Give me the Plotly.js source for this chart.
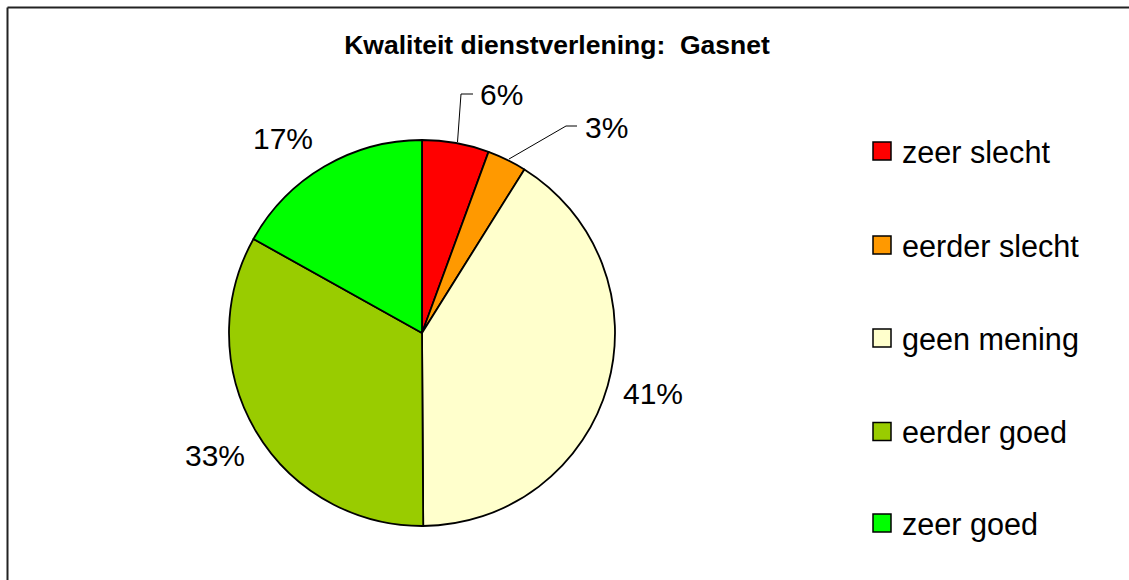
<!DOCTYPE html>
<html>
<head>
<meta charset="utf-8">
<script src="https://cdn.plot.ly/plotly-3.0.1.min.js"></script>
<style>html,body{margin:0;padding:0;background:#fff;}#chart{width:1129px;height:580px;}</style>
</head>
<body>
<div id="chart"></div>
<script>
// Data
const categories = ['zeer slecht', 'eerder slecht', 'geen mening', 'eerder goed', 'zeer goed'];
const values = [5.6, 3.3, 41.0, 33.2, 16.9];
const colors = ['#FF0000', '#FF9900', '#FFFFCC', '#99CC00', '#00FF00'];
const chartTitle = 'Kwaliteit dienstverlening:\u00a0\u00a0Gasnet';

const W = 1129, H = 580;
const X = px => px / W;
const Y = py => 1 - py / H;

const total = values.reduce((a, b) => a + b, 0);
const pctText = values.map(v => Math.round(v / total * 100) + '%');

// label placement (pixel centres) for each slice
const labelPos = [[501, 94], [606, 126], [653, 392], [215, 454], [283, 137]];

const font = "Liberation Sans, Arial, sans-serif";

const annotations = [];
const shapes = [];

// Percentage labels
values.forEach((v, i) => {
  annotations.push({
    xref: 'paper', yref: 'paper', x: X(labelPos[i][0]), y: Y(labelPos[i][1] + 1),
    text: pctText[i], showarrow: false, xanchor: 'center', yanchor: 'middle',
    font: {family: font, size: 30, color: '#000'}
  });
});

// Leader lines for the two small slices
shapes.push({type: 'path', xref: 'paper', yref: 'paper',
  path: `M ${X(473)} ${Y(94)} L ${X(461)} ${Y(94)} L ${X(457.5)} ${Y(142)}`,
  line: {color: '#000', width: 1}});
shapes.push({type: 'path', xref: 'paper', yref: 'paper',
  path: `M ${X(577)} ${Y(126)} L ${X(566)} ${Y(126)} L ${X(509)} ${Y(159)}`,
  line: {color: '#000', width: 1}});

// Manual legend
const legY = [151, 245, 338, 431.5, 523];
categories.forEach((c, i) => {
  shapes.push({type: 'rect', xref: 'paper', yref: 'paper',
    x0: X(873), x1: X(891), y0: Y(legY[i] - 9), y1: Y(legY[i] + 9),
    fillcolor: colors[i], line: {color: '#000', width: 1.5}});
  annotations.push({xref: 'paper', yref: 'paper', x: X(900), y: Y(legY[i] + 1),
    text: c, showarrow: false, xanchor: 'left', yanchor: 'middle',
    font: {family: font, size: 30.6, color: '#000'}});
});

// Outer frame (top and left edges visible)
shapes.push({type: 'line', xref: 'paper', yref: 'paper', x0: X(7.5), x1: X(7.5), y0: Y(600), y1: Y(7.5),
  line: {color: '#222', width: 2}});
shapes.push({type: 'line', xref: 'paper', yref: 'paper', x0: X(7.5), x1: X(1140), y0: Y(7.5), y1: Y(7.5),
  line: {color: '#222', width: 2}});

const trace = {
  type: 'pie',
  labels: categories,
  values: values,
  sort: false,
  direction: 'clockwise',
  rotation: 0,
  marker: {colors: colors, line: {color: '#000', width: 1.8}},
  textinfo: 'none',
  hoverinfo: 'label+percent',
  showlegend: false,
  domain: {x: [X(229), X(615)], y: [Y(526), Y(140)]}
};

const layout = {
  width: W, height: H,
  margin: {l: 0, r: 0, t: 0, b: 0},
  paper_bgcolor: '#fff',
  showlegend: false,
  title: {text: '<b>' + chartTitle + '</b>', x: X(557), y: Y(45), xanchor: 'center', yanchor: 'middle',
    font: {family: font, size: 26.5, color: '#000'}},
  annotations: annotations,
  shapes: shapes
};

Plotly.newPlot('chart', [trace], layout, {displayModeBar: false, staticPlot: true});
</script>
</body>
</html>
